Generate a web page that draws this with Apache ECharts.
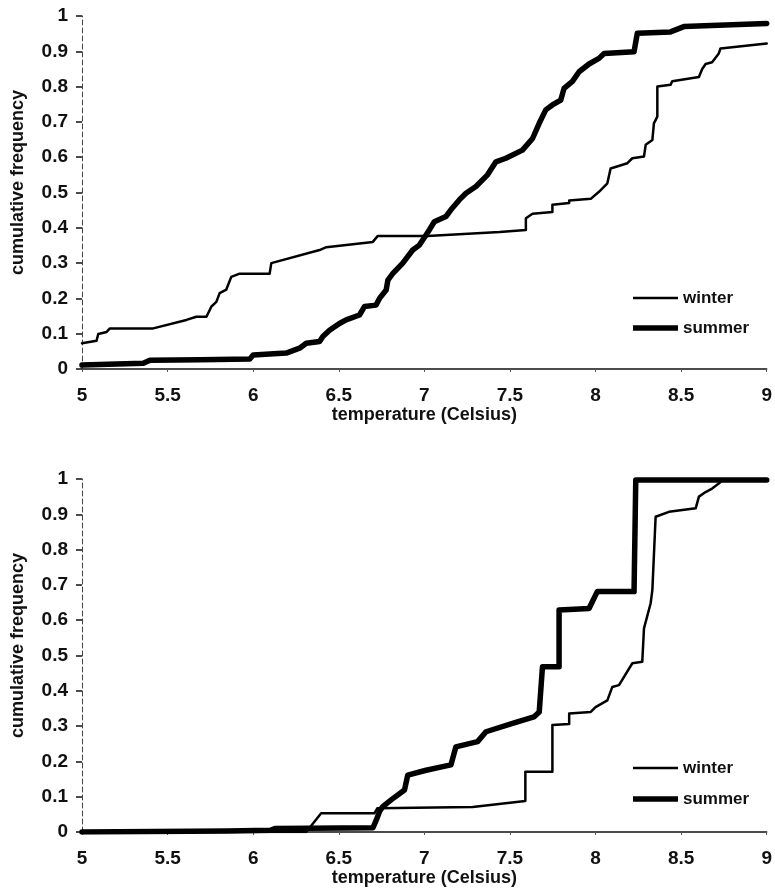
<!DOCTYPE html>
<html>
<head>
<meta charset="utf-8">
<title>cumulative frequency</title>
<script src="https://cdn.jsdelivr.net/npm/echarts@6/dist/echarts.min.js"></script>
<style>
  html, body { margin: 0; padding: 0; background: #fff; }
  #chart { width: 775px; height: 892px; }
</style>
</head>
<body>
<div id="chart"></div>
<script>
// temperature ticks
const tempTicks = [5, 5.5, 6, 6.5, 7, 7.5, 8, 8.5, 9]
const seriesNames = ['winter', 'summer']

// upper panel, winter
const topWinterT = [5.0, 5.085, 5.095, 5.144, 5.163, 5.416, 5.61, 5.668, 5.727, 5.756, 5.785, 5.804, 5.843, 5.872, 5.921,
  6.096, 6.106, 6.388, 6.427, 6.699, 6.728, 7.019, 7.282, 7.44, 7.593, 7.593, 7.632, 7.748, 7.748, 7.846, 7.846, 7.972,
  8.02, 8.069, 8.088, 8.186, 8.215, 8.283, 8.293, 8.332, 8.341, 8.361, 8.361, 8.438, 8.448, 8.604, 8.623, 8.643, 8.681,
  8.72, 8.73, 9.0]
const topWinterF = [0.073, 0.08, 0.099, 0.105, 0.115, 0.115, 0.139, 0.148, 0.148, 0.177, 0.19, 0.215, 0.225, 0.261, 0.27,
  0.27, 0.30, 0.337, 0.345, 0.36, 0.377, 0.377, 0.384, 0.388, 0.394, 0.427, 0.44, 0.445, 0.465, 0.47, 0.477, 0.482,
  0.502, 0.526, 0.568, 0.583, 0.597, 0.602, 0.635, 0.649, 0.696, 0.715, 0.80, 0.805, 0.815, 0.827, 0.85, 0.864, 0.869,
  0.894, 0.908, 0.922]

// upper panel, summer
const topSummerT = [5.0, 5.358, 5.397, 5.688, 5.98, 6.0, 6.193, 6.271, 6.31, 6.388, 6.407, 6.446, 6.504, 6.543, 6.621,
  6.65, 6.718, 6.738, 6.777, 6.787, 6.815, 6.874, 6.932, 6.971, 7.029, 7.058, 7.126, 7.155, 7.204, 7.243, 7.301, 7.369,
  7.418, 7.476, 7.573, 7.632, 7.671, 7.709, 7.748, 7.797, 7.816, 7.865, 7.904, 7.962, 8.02, 8.05, 8.225, 8.244, 8.254,
  8.438, 8.516, 9.0]
const topSummerF = [0.011, 0.016, 0.025, 0.026, 0.028, 0.04, 0.045, 0.059, 0.073, 0.078, 0.092, 0.11, 0.129, 0.139, 0.153,
  0.177, 0.181, 0.2, 0.224, 0.252, 0.27, 0.30, 0.337, 0.351, 0.394, 0.417, 0.432, 0.451, 0.479, 0.498, 0.517, 0.55,
  0.587, 0.597, 0.62, 0.653, 0.696, 0.734, 0.748, 0.762, 0.795, 0.815, 0.842, 0.864, 0.88, 0.894, 0.899, 0.951, 0.955,
  0.955, 0.97, 0.979]

// lower panel, winter
const botWinterT = [5.0, 6.31, 6.397, 6.708, 6.725, 7.282, 7.59, 7.59, 7.748, 7.748, 7.846, 7.846, 7.972, 8.0, 8.069,
  8.098, 8.137, 8.215, 8.273, 8.283, 8.322, 8.332, 8.351, 8.429, 8.585, 8.604, 8.643, 8.681, 8.72, 8.74, 9.0]
const botWinterF = [0, 0, 0.053, 0.053, 0.067, 0.071, 0.088, 0.171, 0.171, 0.303, 0.306, 0.336, 0.34, 0.354, 0.373,
  0.411, 0.416, 0.478, 0.482, 0.577, 0.648, 0.686, 0.893, 0.907, 0.917, 0.95, 0.963, 0.973, 0.987, 0.997, 0.997]

// lower panel, summer
const botSummerT = [5.0, 5.85, 6.1, 6.13, 6.7, 6.72, 6.74, 6.757, 6.806, 6.884, 6.903, 7.01, 7.155, 7.184, 7.311, 7.36,
  7.515, 7.64, 7.671, 7.69, 7.787, 7.787, 7.962, 8.01, 8.225, 8.235, 9.0]
const botSummerF = [0, 0.003, 0.005, 0.01, 0.012, 0.035, 0.06, 0.072, 0.091, 0.119, 0.161, 0.175, 0.19, 0.241, 0.256, 0.284,
  0.308, 0.326, 0.34, 0.468, 0.468, 0.629, 0.633, 0.681, 0.681, 0.997, 0.997]

const font = "'Liberation Sans', Arial, sans-serif"
const ink = '#111'
const thinWidth = 2.5
const thickWidth = 5.5

function pair(xs, ys) {
  return xs.map(function(v, i) {
    return [v, ys[i]]
  })
}

function makeXAxis(gridIndex) {
  return {
    type: 'value',
    gridIndex: gridIndex,
    min: tempTicks[0],
    max: tempTicks[tempTicks.length - 1],
    interval: tempTicks[1] - tempTicks[0],
    name: 'temperature (Celsius)',
    nameLocation: 'middle',
    nameGap: 31,
    nameTextStyle: { color: ink, fontFamily: font, fontWeight: 'bold', fontSize: 18 },
    axisLine: { show: true, onZero: false, lineStyle: { color: ink, width: 1.5 } },
    axisTick: { show: true, length: 3, lineStyle: { color: '#555', width: 1 } },
    axisLabel: { color: ink, fontFamily: font, fontWeight: 'bold', fontSize: 19, margin: 17 },
    splitLine: { show: false }
  }
}

function makeYAxis(gridIndex) {
  return {
    type: 'value',
    gridIndex: gridIndex,
    min: 0,
    max: 1,
    interval: 0.1,
    name: 'cumulative frequency',
    nameLocation: 'middle',
    nameGap: 55,
    nameTextStyle: { color: ink, fontFamily: font, fontWeight: 'bold', fontSize: 18, padding: [0, 0, 0, 20] },
    axisLine: { show: true, lineStyle: { color: '#444', width: 1, type: [5, 3] } },
    axisTick: { show: true, length: 6, lineStyle: { color: ink, width: 1.5 } },
    axisLabel: { color: ink, fontFamily: font, fontWeight: 'bold', fontSize: 19, margin: 14 },
    splitLine: { show: false }
  }
}

function makeSeries(name, idx, data, width) {
  return {
    name: name,
    type: 'line',
    xAxisIndex: idx,
    yAxisIndex: idx,
    symbol: 'none',
    silent: true,
    animation: false,
    lineStyle: { color: '#000', width: width, cap: 'round', join: 'round' },
    itemStyle: { color: '#000' },
    data: data
  }
}

// one legend per entry so each swatch gets its own thickness
function makeLegend(name, top, thickness) {
  return {
    orient: 'vertical',
    left: 633,
    top: top,
    padding: 0,
    icon: 'rect',
    itemWidth: 45,
    itemHeight: thickness,
    textStyle: { color: ink, fontFamily: font, fontWeight: 'bold', fontSize: 17, lineHeight: 17 },
    itemStyle: { color: '#000' },
    data: [name]
  }
}

const chart = echarts.init(document.getElementById('chart'))
chart.setOption({
  backgroundColor: '#fff',
  animation: false,
  grid: [
    { left: 82, top: 16, width: 686, height: 353 },
    { left: 82, top: 479, width: 685, height: 353 }
  ],
  legend: [
    makeLegend(seriesNames[0], 289.5, thinWidth),
    makeLegend(seriesNames[1], 319.5, thickWidth),
    makeLegend(seriesNames[0], 759.5, thinWidth),
    makeLegend(seriesNames[1], 790.5, thickWidth)
  ],
  xAxis: [makeXAxis(0), makeXAxis(1)],
  yAxis: [makeYAxis(0), makeYAxis(1)],
  series: [
    makeSeries(seriesNames[0], 0, pair(topWinterT, topWinterF), thinWidth),
    makeSeries(seriesNames[1], 0, pair(topSummerT, topSummerF), thickWidth),
    makeSeries(seriesNames[0], 1, pair(botWinterT, botWinterF), thinWidth),
    makeSeries(seriesNames[1], 1, pair(botSummerT, botSummerF), thickWidth)
  ]
})
</script>
</body>
</html>
